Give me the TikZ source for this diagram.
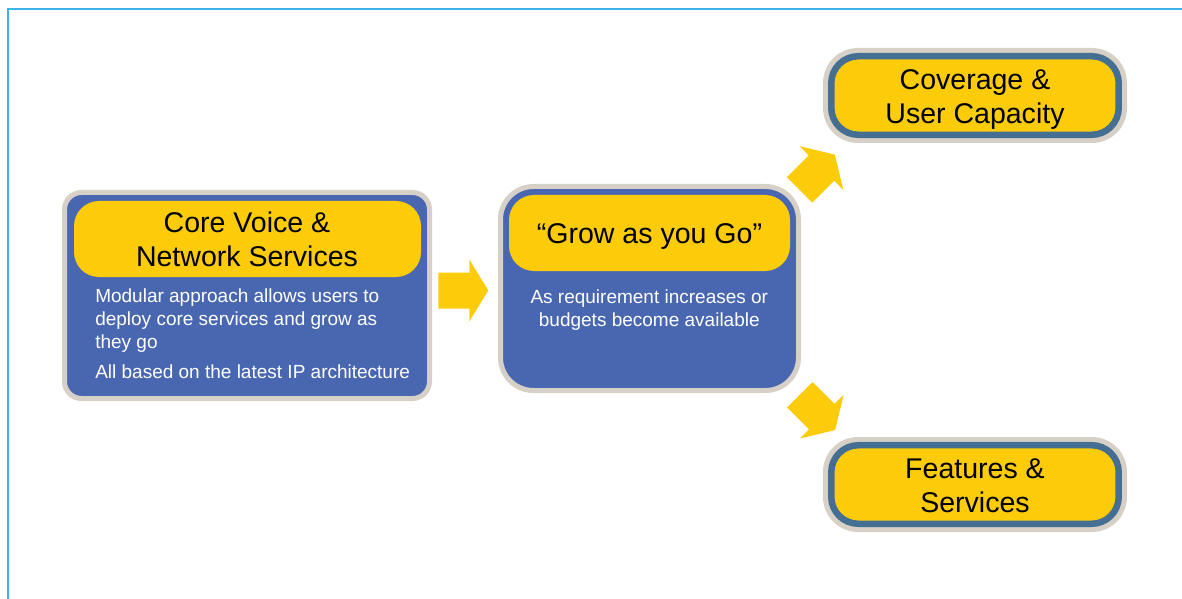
\documentclass[tikz,border=0pt]{standalone}
\usepackage{fontspec}
\setmainfont{Liberation Sans}
\definecolor{boxblue}{RGB}{73,103,177}
\definecolor{gold}{RGB}{252,204,10}
\definecolor{rim}{RGB}{214,208,199}
\definecolor{steel}{RGB}{69,111,146}
\definecolor{framecol}{RGB}{59,180,229}
\begin{document}
\begin{tikzpicture}[x=0.75pt,y=-0.75pt,
  bigbox/.style={draw=rim, fill=boxblue, line width=3.75pt, inner sep=0pt},
  goldbox/.style={fill=gold, inner sep=0pt, rounded corners=18.75pt},
  rimbox/.style={fill=rim, inner sep=0pt, rounded corners=26.25pt, minimum width=228pt, minimum height=71.25pt},
  pillbox/.style={fill=gold, draw=steel, line width=4.875pt, inner sep=0pt, rounded corners=20.25pt, minimum width=215.6pt, minimum height=58.9pt},
  headtxt/.style={font=\fontsize{21.4}{25.5}\selectfont, inner sep=0pt, text=black, anchor=base},
  bodytxt/.style={font=\fontsize{14.25}{17.25}\selectfont, inner sep=0pt, text=white},
  blockarrow/.pic={\fill[gold] (0,-18) -- (31,-18) -- (31,-31) -- (50,0) -- (31,31) -- (31,18) -- (0,18) -- cycle;}
]
\useasboundingbox (0,0) rectangle (1182,599);
% frame
\draw[framecol, line width=1.1pt] (8,599) |- (1182,9);

% left box
\node[bigbox, rounded corners=12.75pt, minimum width=273.75pt, minimum height=154.5pt] (core) at (247,295.5) {};
\node[goldbox, minimum width=260.25pt, minimum height=57pt] (corehead) at (247.5,239) {};
\node[headtxt] (coreA) at (247,232.3) {Core Voice \&};
\node[headtxt] (coreB) at (247,266.7) {Network Services};
\node[bodytxt, anchor=base west] (coreL1) at (95,302.3) {Modular approach allows users to};
\node[bodytxt, anchor=base west] (coreL2) at (95,325.3) {deploy core services and grow as};
\node[bodytxt, anchor=base west] (coreL3) at (95,348.3) {they go};
\node[bodytxt, anchor=base west] (coreL4) at (95,378.3) {All based on the latest IP architecture};

% middle box
\node[bigbox, rounded corners=24.75pt, minimum width=223.5pt, minimum height=153pt] (grow) at (649.5,288.5) {};
\node[goldbox, minimum width=210.75pt, minimum height=57pt] (growhead) at (649.5,233) {};
\node[headtxt] (growA) at (649.5,243.3) {“Grow as you Go”};
\node[bodytxt, anchor=base] (growL1) at (649.3,303.5) {As requirement increases or};
\node[bodytxt, anchor=base] (growL2) at (649.3,326.3) {budgets become available};

% right top
\node[rimbox] (covrim) at (975,95.5) {};
\node[pillbox] (cov) at (975,95.5) {};
\node[headtxt] (covA) at (975,90) {Coverage \&};
\node[headtxt] (covB) at (975,123.3) {User Capacity};

% right bottom
\node[rimbox] (featrim) at (975,484.5) {};
\node[pillbox] (feat) at (975,484.5) {};
\node[headtxt] (featA) at (975,478.3) {Features \&};
\node[headtxt] (featB) at (975,512.3) {Services};

% block arrows
\pic (arrowA) at (438.3,290.5) {blockarrow};
\pic[rotate=45] (arrowB) at (799.5,190) {blockarrow};
\pic[rotate=-45] (arrowC) at (799.8,394.7) {blockarrow};
\end{tikzpicture}
\end{document}
